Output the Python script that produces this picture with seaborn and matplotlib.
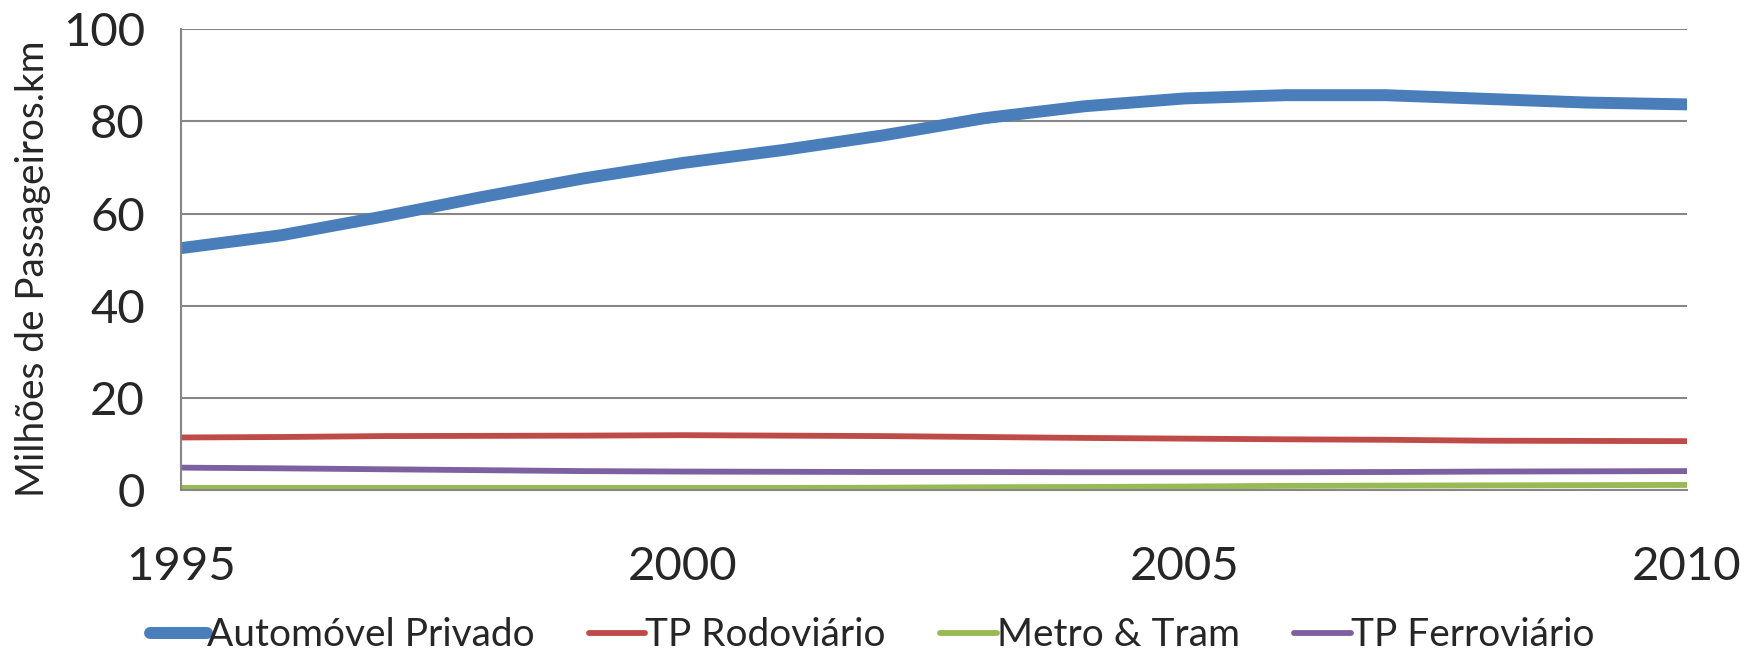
import matplotlib
matplotlib.use("Agg")
import matplotlib.pyplot as plt
import seaborn as sns
import pandas as pd

years = list(range(1995, 2011))
automovel = [52.5, 55.3, 59.3, 63.6, 67.6, 71.0, 73.8, 77.0, 80.7, 83.3, 85.0, 85.7, 85.7, 84.9, 84.1, 83.7]
tp_rodoviario = [11.4, 11.5, 11.7, 11.75, 11.8, 11.9, 11.8, 11.7, 11.5, 11.3, 11.15, 11.0, 10.9, 10.7, 10.65, 10.6]
metro_tram = [0.45, 0.45, 0.45, 0.45, 0.45, 0.45, 0.45, 0.5, 0.6, 0.65, 0.75, 0.9, 0.95, 1.0, 1.05, 1.1]
tp_ferroviario = [4.85, 4.7, 4.5, 4.3, 4.1, 4.0, 3.95, 3.9, 3.9, 3.85, 3.85, 3.85, 3.9, 4.0, 4.05, 4.1]

series_names = ["Automóvel Privado", "TP Rodoviário", "Metro & Tram", "TP Ferroviário"]
series_values = [automovel, tp_rodoviario, metro_tram, tp_ferroviario]
colors = ["#4A7EBB", "#BE4B48", "#98B954", "#7D60A0"]
widths = [8.6, 4.2, 4.2, 4.2]

y_ticks = [0, 20, 40, 60, 80, 100]
x_ticks = [1995, 2000, 2005, 2010]
y_label = "Milhões de Passageiros.km"

sns.set_theme(style="white")
plt.rcParams["font.family"] = ["Lato", "DejaVu Sans"]

W, H = 1744, 657
fig = plt.figure(figsize=(W / 100, H / 100), dpi=100)
ax = fig.add_axes([0.1038, 0.2542, 0.8635, 0.7012])

frames = []
for name, vals in zip(series_names, series_values):
    frames.append(pd.DataFrame({"Ano": years, "Valor": vals, "Série": name}))
df = pd.concat(frames, ignore_index=True)

handles = []
for name, col, lw in zip(series_names, colors, widths):
    sub = df[df["Série"] == name]
    sns.lineplot(data=sub, x="Ano", y="Valor", ax=ax, color=col, linewidth=lw,
                 solid_capstyle="round", legend=False)
    handles.append(ax.lines[-1])

ax.set_xlim(1995, 2010)
ax.set_ylim(0, 100)
ax.set_xticks(x_ticks)
ax.set_yticks(y_ticks)
ax.set_xticklabels([str(x) for x in x_ticks], fontsize=34)
ax.set_yticklabels([str(y) for y in y_ticks], fontsize=34)
ax.set_xlabel("")
ax.set_ylabel("")

# y-axis title placed as figure text, sized to the reference length
lab = fig.text(33.5 / W, 1 - 269 / H, y_label, rotation=90, ha="center", va="center", fontsize=26)
fig.canvas.draw()
ext = lab.get_window_extent()
lab.set_fontsize(26 * 455 / ext.height)

ax.yaxis.grid(True, color="#868686", linewidth=1.5)
ax.xaxis.grid(False)
ax.set_axisbelow(True)
for s in ["top", "right"]:
    ax.spines[s].set_visible(False)
for s in ["left", "bottom"]:
    ax.spines[s].set_color("#868686")
    ax.spines[s].set_linewidth(1.5)
ax.tick_params(axis="x", direction="out", length=14, width=1.5, color="#868686", pad=26)
ax.tick_params(axis="y", direction="out", length=12, width=1.5, color="#868686", pad=14)

ax.legend(handles, series_names, loc="lower center", bbox_to_anchor=(0.459, -0.405),
          ncol=4, frameon=False, fontsize=28, handlelength=1.45, handletextpad=0.0,
          columnspacing=1.4, borderpad=0.1)

fig.savefig("out.png", dpi=100)
